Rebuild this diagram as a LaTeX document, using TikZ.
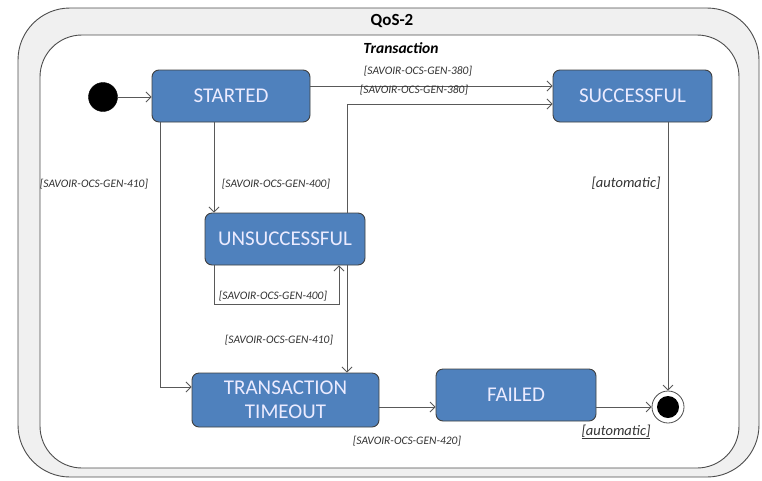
\documentclass[tikz,border=0pt]{standalone}
\usepackage{fontspec}
\setmainfont{Carlito}
\usetikzlibrary{arrows.meta}
\begin{document}
\begin{tikzpicture}[x=1pt,y=-1pt,
  state/.style={draw=black!75,line width=0.9pt,fill=stateblue,rounded corners=7pt,
    text=white!92!blue,font=\fontsize{21}{24}\selectfont,align=center,inner sep=0pt},
  trans/.style={draw=black!65,line width=0.8pt,-{Straight Barb[length=5pt,width=10pt]}},
  guard/.style={font=\itshape\fontsize{11.5}{13}\selectfont,text=black!80,inner sep=1pt},
  autoguard/.style={guard,font=\itshape\fontsize{14.5}{16}\selectfont}]
\definecolor{stateblue}{HTML}{4F81BD}
\useasboundingbox (0,0) rectangle (762,480);
% composite states
\draw[draw=black!70,fill=black!6,line width=0.9pt,rounded corners=52pt] (18,8) rectangle (759,477);
\draw[draw=black!70,fill=white,line width=0.9pt,rounded corners=42pt] (40,35) rectangle (739,468);
\node[font=\bfseries\fontsize{17}{19}\selectfont] (qos) at (392,21) {QoS-2};
\node[font=\bfseries\itshape\fontsize{15.5}{17}\selectfont] (tr) at (401,48) {Transaction};
% states
\node[state,minimum width=158pt,minimum height=52pt] (started) at (231,96) {STARTED};
\node[state,minimum width=159pt,minimum height=52pt] (succ) at (632.5,96) {SUCCESSFUL};
\node[state,minimum width=160pt,minimum height=52pt] (unsucc) at (285,239) {UNSUCCESSFUL};
\node[state,minimum width=187pt,minimum height=54pt] (timeout) at (285.5,400) {TRANSACTION\\TIMEOUT};
\node[state,minimum width=160pt,minimum height=52pt] (failed) at (516,395) {FAILED};
\node[draw=black,fill=black,circle,minimum size=29pt,inner sep=0pt] (init) at (103,97) {};
\node[draw=black!70,fill=white,circle,line width=0.8pt,minimum size=32pt,inner sep=0pt] (final) at (668,407) {};
\node[fill=black,circle,minimum size=22pt,inner sep=0pt] (finaldot) at (final) {};
% transitions
\draw[trans] (init.east) -- (started.west |- init.east);
\draw[trans] (started.east |- 0,86) -- (succ.west |- 0,86);
\node[guard] (g1) at (418,71) {[SAVOIR-OCS-GEN-380]};
\draw[trans] (unsucc.north -| 347,0) -- (347,104) -- (succ.west |- 0,104);
\node[guard] (g2) at (414,90) {[SAVOIR-OCS-GEN-380]};
\draw[trans] (started.south -| 214,0) -- (unsucc.north -| 214,0);
\node[guard] (g3) at (276,184) {[SAVOIR-OCS-GEN-400]};
\draw[trans] (started.south -| 160,0) -- (160,387) -- (timeout.west |- 0,387);
\node[guard] (g4) at (94,184) {[SAVOIR-OCS-GEN-410]};
\draw[trans] (unsucc.south -| 214,0) -- (214,304) -- (339,304) -- (unsucc.south -| 339,0);
\node[guard] (g5) at (273,296) {[SAVOIR-OCS-GEN-400]};
\draw[trans] (unsucc.south -| 347,0) -- (timeout.north -| 347,0);
\node[guard] (g6) at (279,340) {[SAVOIR-OCS-GEN-410]};
\draw[trans] (timeout.east |- 0,407) -- (failed.west |- 0,407);
\node[guard] (g7) at (407,441) {[SAVOIR-OCS-GEN-420]};
\draw[trans] (failed.east |- 0,407) -- (final.west);
\node[autoguard] (g8) at (616,432) {\underline{[automatic]}};
\draw[trans] (succ.south -| 668,0) -- (final.north);
\node[autoguard] (g9) at (626,183) {[automatic]};
\end{tikzpicture}
\end{document}
